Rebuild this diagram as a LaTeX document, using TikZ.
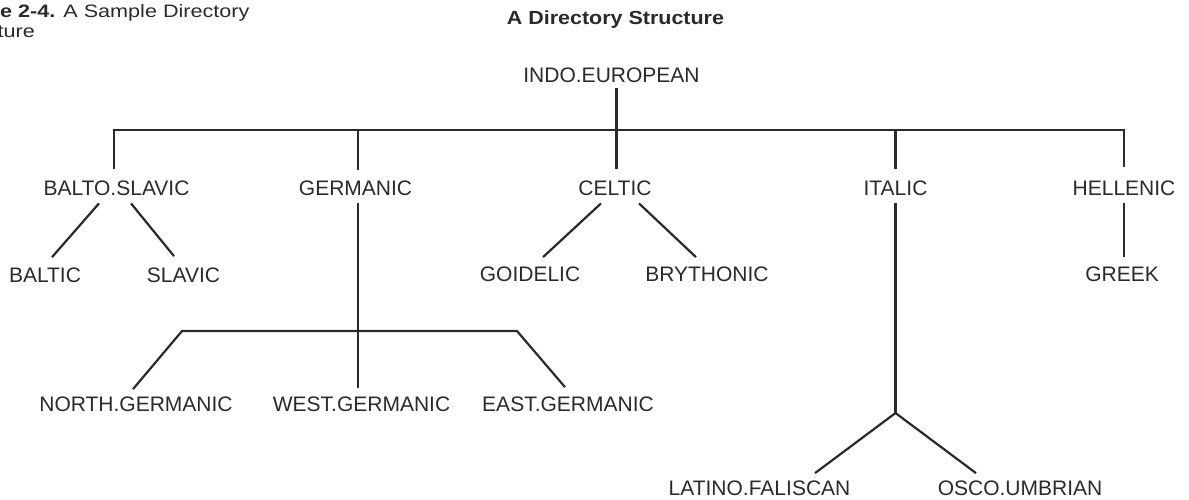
\documentclass[tikz,border=0pt]{standalone}
\usepackage{fontspec}
\setmainfont{Liberation Sans}
\usetikzlibrary{calc}
\definecolor{ink}{HTML}{2A2A2A}
\begin{document}
\begin{tikzpicture}[x=1pt,y=-1pt,
  lbl/.style={inner sep=0pt,anchor=base,text=ink,font=\fontsize{21}{25}\selectfont},
  conn/.style={draw=ink,line width=2.2pt,line cap=butt,line join=miter}]
\useasboundingbox (0,0) rectangle (1189,499);
% caption and title
\node[inner sep=0pt,anchor=base west,text=ink,font=\fontsize{18}{22}\selectfont] (cap1) at (0,17)
  {\scalebox{1.2}[1]{\textbf{e 2-4.} A Sample Directory}};
\node[inner sep=0pt,anchor=base west,text=ink,font=\fontsize{18}{22}\selectfont] (cap2) at (-2.5,37)
  {\scalebox{1.2}[1]{ture}};
\node[inner sep=0pt,anchor=base,text=ink,font=\fontsize{19}{23}\selectfont\bfseries] (title) at (615.5,24)
  {\scalebox{1.13}[1]{A Directory Structure}};
% nodes
\node[lbl] (indo) at (611.5,82) {INDO.EUROPEAN};
\node[lbl] (balto) at (116.5,195) {BALTO.SLAVIC};
\node[lbl] (germanic) at (355.5,195) {GERMANIC};
\node[lbl] (celtic) at (615,195) {CELTIC};
\node[lbl] (italic) at (895.5,195) {ITALIC};
\node[lbl] (hellenic) at (1124,195) {HELLENIC};
\node[lbl] (baltic) at (45,282) {BALTIC};
\node[lbl] (slavic) at (183.5,282) {SLAVIC};
\node[lbl] (goidelic) at (530,281) {GOIDELIC};
\node[lbl] (brythonic) at (707,281) {BRYTHONIC};
\node[lbl] (greek) at (1122,281) {GREEK};
\node[lbl] (north) at (136,411) {NORTH.GERMANIC};
\node[lbl] (west) at (361.5,411) {WEST.GERMANIC};
\node[lbl] (east) at (568,411) {EAST.GERMANIC};
\node[lbl] (latino) at (759.5,495) {LATINO.FALISCAN};
\node[lbl] (osco) at (1020,495) {OSCO.UMBRIAN};
% junctions
\coordinate (jt) at (616.5,130);
\coordinate (jb) at (114,130);
\coordinate (jg) at (358,130);
\coordinate (jc) at (616.5,130);
\coordinate (ji) at (895.5,130);
\coordinate (jh) at (1124,130);
\coordinate (jg2) at (358,331);
\coordinate (jn) at (182,331);
\coordinate (je) at (517,331);
\coordinate (jf) at (895.5,413);
% top level
\draw[conn] ($(indo.south -| jt)+(0,6)$) -- (jt);
\draw[conn] ($(balto.north -| jb)+(0,-11)$) -- (jb) -- (jh) -- ($(hellenic.north -| jh)+(0,-13)$);
\draw[conn] (jg) -- ($(germanic.north -| jg)+(0,-10)$);
\draw[conn] (jc) -- ($(celtic.north -| jc)+(0,-11)$);
\draw[conn] (ji) -- ($(italic.north -| ji)+(0,-11)$);
% balto-slavic
\draw[conn] ($(balto.south)+(-17.5,8)$) -- ($(baltic.north)+(7,-10)$);
\draw[conn] ($(balto.south)+(14.5,8)$) -- ($(slavic.north)+(-9.5,-11)$);
% celtic
\draw[conn] ($(celtic.south)+(-14,8)$) -- ($(goidelic.north)+(13,-9)$);
\draw[conn] ($(celtic.south)+(24,8)$) -- ($(brythonic.north)+(-11,-9)$);
% hellenic
\draw[conn] ($(hellenic.south)+(0,8)$) -- ($(greek.north -| hellenic.south)+(0,-9)$);
% germanic
\draw[conn] ($(germanic.south -| jg2)+(0,8)$) -- ($(west.north -| jg2)+(0,-8)$);
\draw[conn] ($(north.north)+(-3,-7)$) -- (jn) -- (je) -- ($(east.north)+(-3,-9)$);
% italic
\draw[conn] ($(italic.south -| jf)+(0,8)$) -- (jf);
\draw[conn] ($(latino.north)+(55.5,-7)$) -- (jf) -- ($(osco.north)+(-44,-7)$);
\end{tikzpicture}
\end{document}
